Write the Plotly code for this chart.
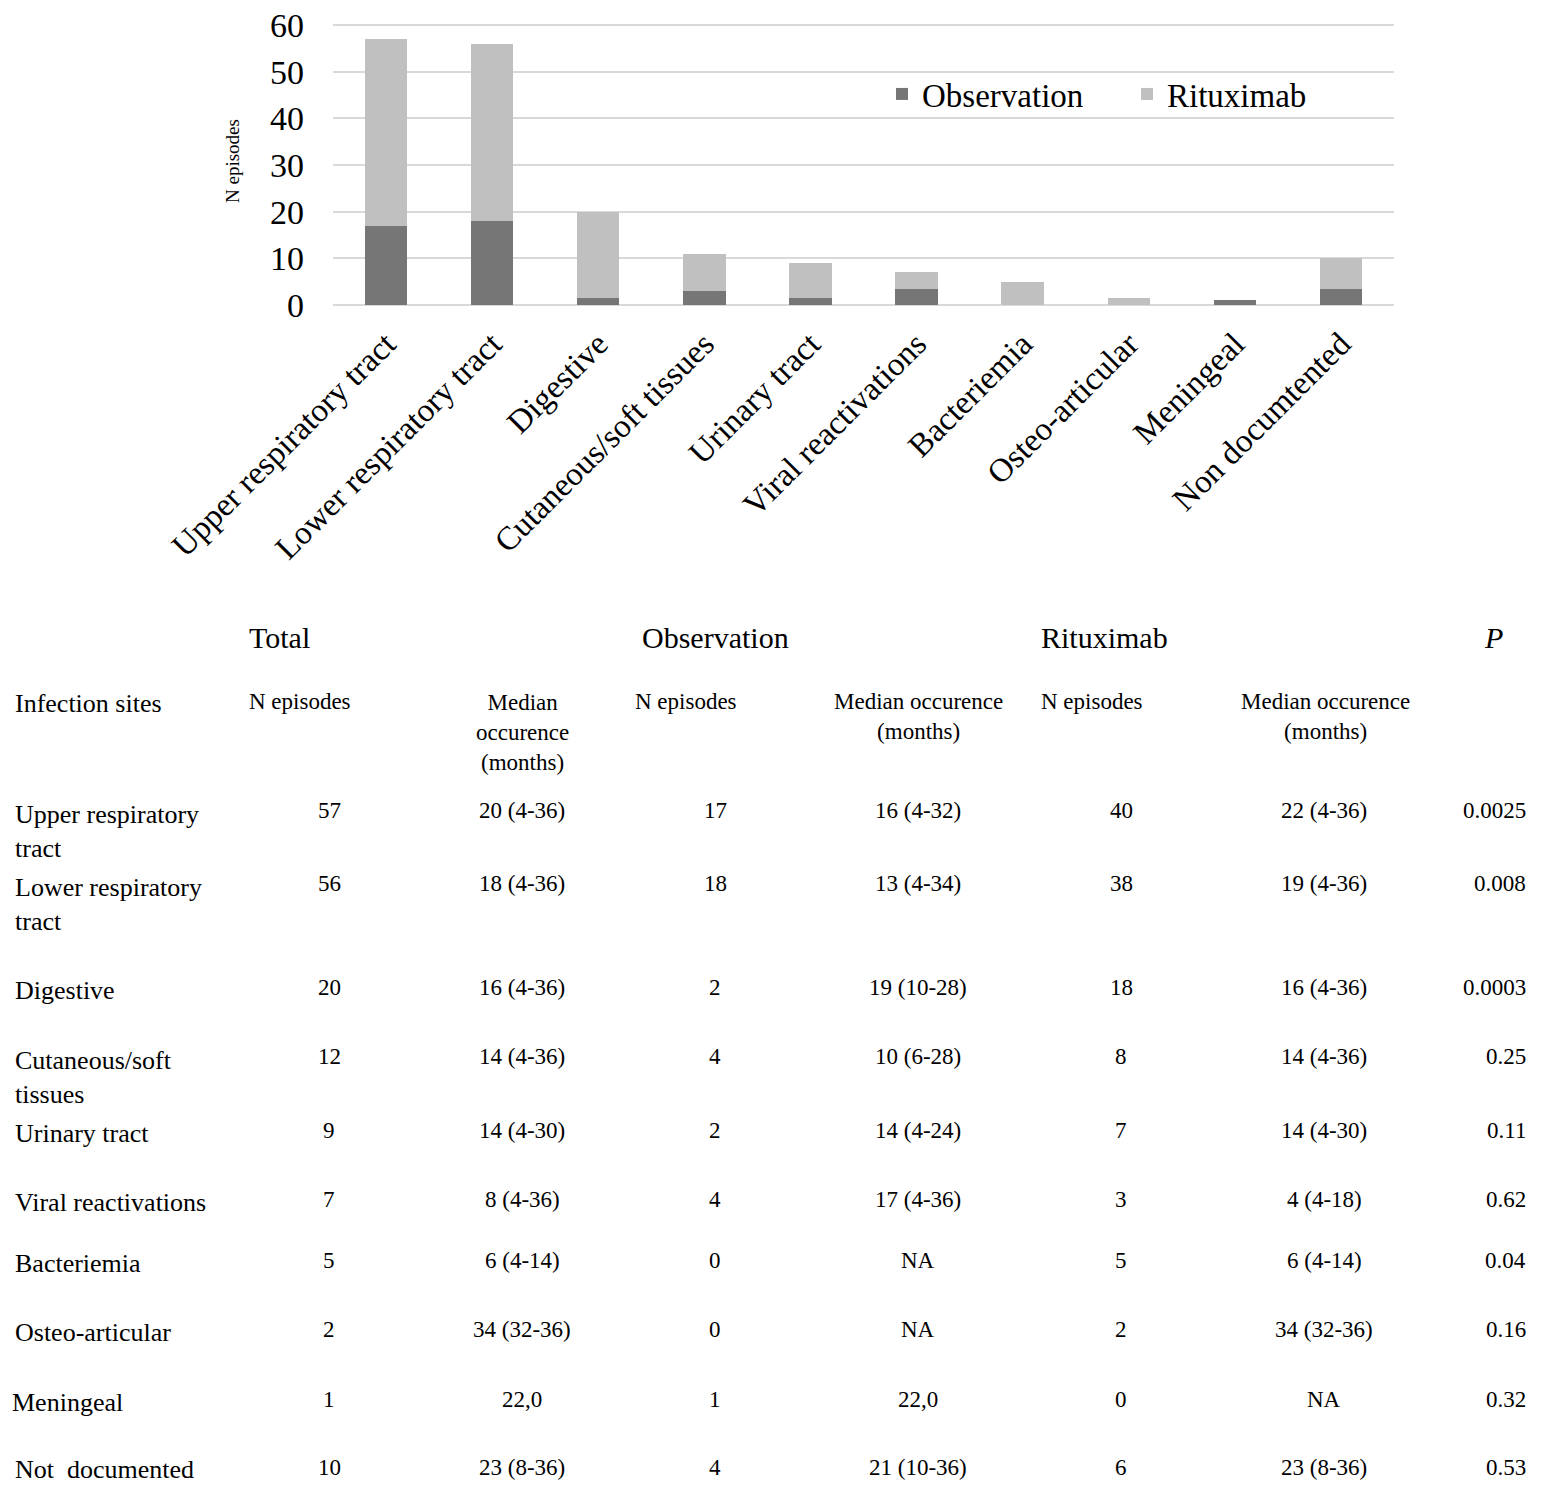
import plotly.graph_objects as go

# ---------------- data ----------------
categories = ["Upper respiratory tract", "Lower respiratory tract", "Digestive",
              "Cutaneous/soft tissues", "Urinary tract", "Viral reactivations",
              "Bacteriemia", "Osteo-articular", "Meningeal", "Non documtented"]
observation = [17, 18, 1.5, 3, 1.5, 3.5, 0, 0, 1, 3.5]
rituximab = [40, 38, 18.5, 8, 7.5, 3.5, 5, 1.5, 0, 6.5]
y_ticks = [0, 10, 20, 30, 40, 50, 60]

# table
table_sites = ["Upper respiratory<br>tract", "Lower respiratory<br>tract", "Digestive",
               "Cutaneous/soft<br>tissues", "Urinary tract", "Viral reactivations",
               "Bacteriemia", "Osteo-articular", "Meningeal", "Not  documented"]
total_n = ["57", "56", "20", "12", "9", "7", "5", "2", "1", "10"]
total_median = ["20 (4-36)", "18 (4-36)", "16 (4-36)", "14 (4-36)", "14 (4-30)",
                "8 (4-36)", "6 (4-14)", "34 (32-36)", "22,0", "23 (8-36)"]
obs_n = ["17", "18", "2", "4", "2", "4", "0", "0", "1", "4"]
obs_median = ["16 (4-32)", "13 (4-34)", "19 (10-28)", "10 (6-28)", "14 (4-24)",
              "17 (4-36)", "NA", "NA", "22,0", "21 (10-36)"]
rit_n = ["40", "38", "18", "8", "7", "3", "5", "2", "0", "6"]
rit_median = ["22 (4-36)", "19 (4-36)", "16 (4-36)", "14 (4-36)", "14 (4-30)",
              "4 (4-18)", "6 (4-14)", "34 (32-36)", "NA", "23 (8-36)"]
p_values = ["0.0025", "0.008", "0.0003", "0.25", "0.11", "0.62", "0.04", "0.16", "0.32", "0.53"]

# ---------------- layout helpers ----------------
OFF = 8  # page body margin
W, H = 1552 - OFF, 1496 - OFF
FONT = "Liberation Serif, Times New Roman, serif"
Y_MAX = 60.6
Y0_PX, Y60_PX = 305, 25
Y_TOP_PX = Y0_PX - (Y0_PX - Y60_PX) * Y_MAX / 60


def px(x):
    return (x - OFF) / W


def py(y):
    return 1 - (y - OFF) / H


fig = go.Figure()
fig.add_trace(go.Bar(x=categories, y=observation, name="Observation",
                     marker=dict(color="#767676", line=dict(width=0))))
fig.add_trace(go.Bar(x=categories, y=rituximab, name="Rituximab",
                     marker=dict(color="#c0c0c0", line=dict(width=0))))

annotations = []


def add_text(x, y, text, size, xanchor="center", italic=False):
    annotations.append(dict(
        x=px(x), y=py(y), xref="paper", yref="paper", text=text, showarrow=False,
        xanchor=xanchor, yanchor="middle", align="left" if xanchor == "left" else "center",
        font=dict(family=FONT, size=size, color="#000000", style="italic" if italic else "normal"),
    ))


# y-axis title
annotations.append(dict(x=px(233), y=py(161), xref="paper", yref="paper", text="N episodes",
                        showarrow=False, textangle=-90, xanchor="center", yanchor="middle",
                        font=dict(family=FONT, size=19, color="#000")))

# table headers
add_text(279, 637, "Total", 30)
add_text(715, 637, "Observation", 30)
add_text(1104, 637, "Rituximab", 30)
add_text(1493, 637, "P", 30, italic=True)

add_text(13, 703, "Infection sites", 26, xanchor="left")
add_text(300, 701, "N episodes", 23)
add_text(522, 732, "Median<br>occurence<br>(months)", 23)
add_text(686, 701, "N episodes", 23)
add_text(918, 716, "Median occurence<br>(months)", 23)
add_text(1092, 701, "N episodes", 23)
add_text(1325, 716, "Median occurence<br>(months)", 23)

row_label_y = [831, 904, 990, 1077, 1133, 1202, 1263, 1332, 1402, 1469]
row_value_y = [810, 883, 987, 1056, 1130, 1199, 1260, 1329, 1399, 1467]
for i in range(len(table_sites)):
    add_text(10 if i == 8 else 13, row_label_y[i], table_sites[i], 26, xanchor="left")
    vy = row_value_y[i]
    add_text(329, vy, total_n[i], 23)
    add_text(522, vy, total_median[i], 23)
    add_text(715, vy, obs_n[i], 23)
    add_text(918, vy, obs_median[i], 23)
    add_text(1121, vy, rit_n[i], 23)
    add_text(1324, vy, rit_median[i], 23)
    annotations.append(dict(x=px(1528), y=py(vy), xref="paper", yref="paper", text=p_values[i],
                            showarrow=False, xanchor="right", yanchor="middle",
                            font=dict(family=FONT, size=23, color="#000")))

fig.update_layout(
    template="none",
    width=W, height=H,
    margin=dict(l=0, r=0, t=0, b=0, pad=0, autoexpand=False),
    paper_bgcolor="white", plot_bgcolor="white",
    barmode="stack", bargap=0.6,
    font=dict(family=FONT, color="#000"),
    showlegend=True,
    legend=dict(orientation="h", x=px(882), y=py(94), xanchor="left", yanchor="middle",
                font=dict(family=FONT, size=33, color="#000"), bgcolor="rgba(0,0,0,0)",
                traceorder="normal", entrywidth=200, entrywidthmode="pixels"),
    xaxis=dict(domain=[px(333), px(1394)], tickangle=-45, showgrid=False, showline=False,
               zeroline=False, automargin=False, ticklabeloverflow="allow",
               tickfont=dict(family=FONT, size=33, color="#000"), ticks="",
               ticklabelstandoff=12, fixedrange=True),
    yaxis=dict(domain=[py(Y0_PX), py(Y_TOP_PX)], range=[0, Y_MAX], tickvals=y_ticks,
               automargin=False, ticklabeloverflow="allow",
               showgrid=True, gridcolor="#d9d9d9", gridwidth=2,
               zeroline=True, zerolinecolor="#d9d9d9", zerolinewidth=2, showline=False,
               tickfont=dict(family=FONT, size=34, color="#000"), ticks="",
               ticklabelstandoff=28),
    annotations=annotations,
)

fig.write_html("out.html")
